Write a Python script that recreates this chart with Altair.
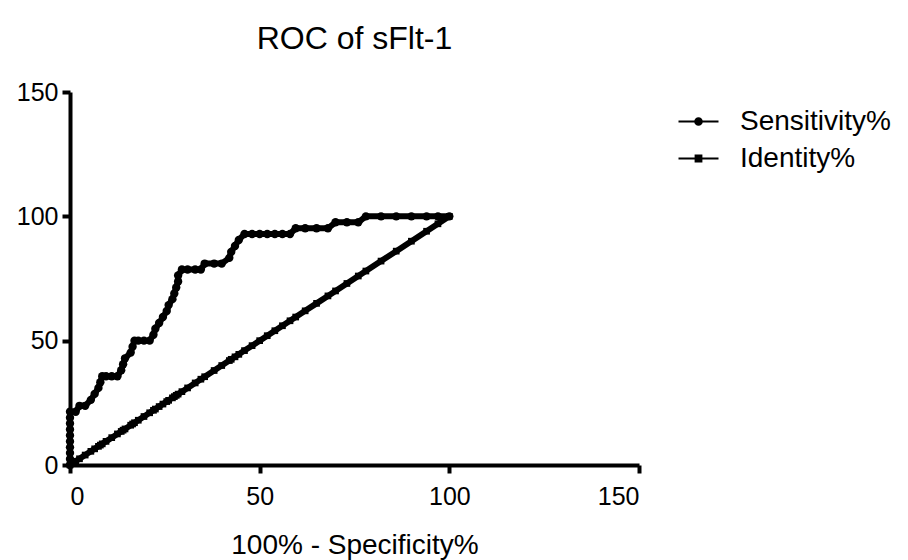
import altair as alt
import pandas as pd

# ROC curve of sFlt-1 (x = 100% - Specificity%, y = Sensitivity%)
fpr = [0, 0, 0, 0, 0, 0, 0, 0, 0, 0,
       1.5, 2.5, 4.0, 5.5, 6.5, 7.5, 8.0, 8.5, 9.5, 11.0, 12.5,
       13.5, 14.0, 14.5, 16.0, 16.5, 17.0, 18.0, 19.5, 21.0,
       22.0, 22.5, 23.5, 24.5, 25.5, 26.0, 27.0, 27.5, 28.0, 28.5, 28.5,
       29.5, 31.0, 33.0, 34.5, 35.5, 38.0, 40.0,
       42.0, 42.5, 43.5, 44.5, 46.0, 48.0, 50.0, 52.0, 54.0, 56.0, 58.0,
       59.5, 62.0, 65.0, 68.0, 70.0, 73.0, 76.0,
       78.0, 82.0, 86.0, 90.0, 94.0, 97.0, 100.0]
sensitivity = [0, 2.4, 4.8, 7.1, 9.5, 11.9, 14.3, 16.7, 19.0, 21.4,
               21.4, 23.8, 23.8, 26.2, 28.6, 31.0, 33.3, 35.7, 35.7, 35.7, 35.7,
               38.1, 40.5, 42.9, 45.2, 47.6, 50.0, 50.0, 50.0, 50.0,
               52.4, 54.8, 57.1, 59.5, 61.9, 64.3, 66.7, 69.0, 71.4, 73.8, 76.2,
               78.6, 78.6, 78.6, 78.6, 81.0, 81.0, 81.0,
               83.3, 85.7, 88.1, 90.5, 92.9, 92.9, 92.9, 92.9, 92.9, 92.9, 92.9,
               95.2, 95.2, 95.2, 95.2, 97.6, 97.6, 97.6,
               100, 100, 100, 100, 100, 100, 100]

# Identity line (y = x) points
identity_pct = [0, 1.5, 2.5, 4.0, 5.5, 6.5, 7.5, 8.0, 8.5, 9.5, 11.0, 12.5,
                13.5, 14.0, 14.5, 16.0, 16.5, 17.0, 18.0, 19.5, 21.0,
                22.0, 22.5, 23.5, 24.5, 25.5, 26.0, 27.0, 27.5, 28.0, 28.5,
                29.5, 31.0, 33.0, 34.5, 35.5, 38.0, 40.0,
                42.0, 42.5, 43.5, 44.5, 46.0, 48.0, 50.0, 52.0, 54.0, 56.0, 58.0,
                59.5, 62.0, 65.0, 68.0, 70.0, 73.0, 76.0,
                78.0, 82.0, 86.0, 90.0, 94.0, 97.0, 100.0]

series_names = ["Sensitivity%", "Identity%"]
axis_ticks = [0, 50, 100, 150]

roc_df = pd.DataFrame({"x": fpr, "y": sensitivity, "i": range(len(fpr))})
id_df = pd.DataFrame({"x": identity_pct, "y": identity_pct, "i": range(len(identity_pct))})
legend_df = pd.DataFrame({"series": series_names, "x": [0, 0], "y": [0, 0]})

xscale = alt.Scale(domain=[0, 150], nice=False, zero=False)
yscale = alt.Scale(domain=[0, 150], nice=False, zero=False)

xenc = alt.X("x:Q", scale=xscale,
             axis=alt.Axis(values=axis_ticks, title="100% - Specificity%"))
yenc = alt.Y("y:Q", scale=yscale, axis=alt.Axis(values=axis_ticks, title=None))

roc_line = alt.Chart(roc_df).mark_line(color="black", strokeWidth=6).encode(
    x=xenc, y=yenc, order="i:Q")
roc_pts = alt.Chart(roc_df).mark_point(shape="circle", filled=True, size=70,
                                       color="black", opacity=1).encode(x=xenc, y=yenc)
id_line = alt.Chart(id_df).mark_line(color="black", strokeWidth=6).encode(
    x=xenc, y=yenc, order="i:Q")
id_pts = alt.Chart(id_df).mark_point(shape="square", filled=True, size=45,
                                     color="black", opacity=1).encode(x=xenc, y=yenc)

# legend symbols: a short line with the marker in the middle
circ_path = ("M-1,0L1,0"
             "M-0.16,0A0.16,0.16 0 1,0 0.16,0A0.16,0.16 0 1,0 -0.16,0Z"
             "M-0.07,0A0.07,0.07 0 1,0 0.07,0A0.07,0.07 0 1,0 -0.07,0Z")
sq_path = ("M-1,0L1,0"
           "M-0.14,-0.14L0.14,-0.14L0.14,0.14L-0.14,0.14Z"
           "M-0.06,-0.06L0.06,-0.06L0.06,0.06L-0.06,0.06Z")

legend_layer = alt.Chart(legend_df).transform_filter("false").mark_point(
    filled=False, color="black", strokeWidth=2, opacity=1).encode(
    x=xenc, y=yenc,
    shape=alt.Shape("series:N",
                    scale=alt.Scale(domain=series_names, range=[circ_path, sq_path]),
                    legend=alt.Legend(title=None, orient="none", legendX=607, legendY=8,
                                      symbolSize=1600, symbolStrokeWidth=2.2,
                                      symbolStrokeColor="black", symbolOpacity=1,
                                      symbolFillColor="black",
                                      labelFontSize=28, labelFont="Liberation Sans",
                                      labelColor="black", labelOffset=20,
                                      rowPadding=1, padding=0)))

chart = alt.layer(id_line, id_pts, roc_line, roc_pts, legend_layer).properties(
    width=569, height=373,
    title=alt.TitleParams("ROC of sFlt-1", fontSize=32, font="Liberation Sans",
                          fontWeight="normal", color="black", offset=24),
    autosize=alt.AutoSizeParams(type="none"),
    padding={"left": 70, "top": 92, "right": 269, "bottom": 95},
).configure_view(stroke=None).configure_axis(
    grid=False, domainColor="black", domainWidth=4, tickColor="black",
    tickWidth=4, tickSize=8, labelFontSize=25, labelFont="Liberation Sans",
    labelColor="black", titleFontSize=28, titleFont="Liberation Sans",
    titleFontWeight="normal", titleColor="black", labelPadding=4,
    titlePadding=22,
).configure_axisX(labelPadding=11)

chart.save("out.html", embed_options={"renderer": "svg", "actions": False})
